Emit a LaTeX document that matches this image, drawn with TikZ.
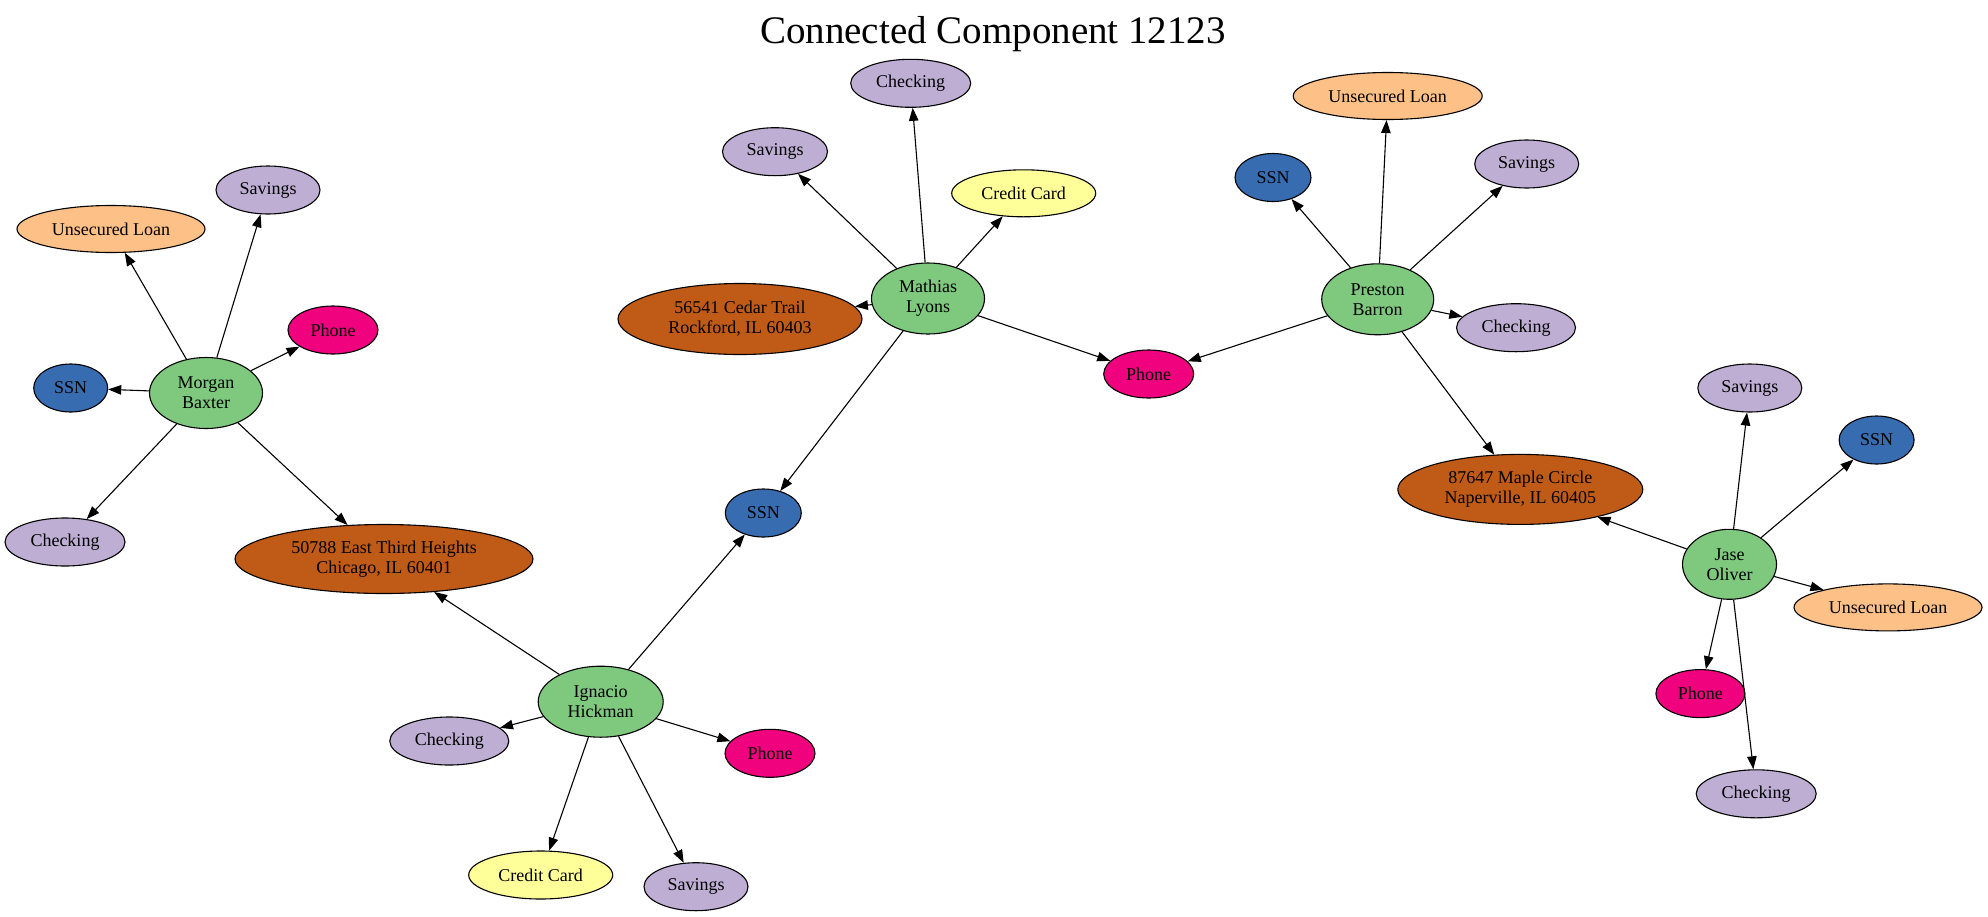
\documentclass[tikz,border=0pt]{standalone}
\usepackage{fontspec}
\setmainfont{Liberation Serif}
\usetikzlibrary{shapes.geometric,arrows.meta}
\definecolor{cperson}{HTML}{7FC97F}
\definecolor{cacct}{HTML}{BEAED4}
\definecolor{cloan}{HTML}{FDC086}
\definecolor{ccard}{HTML}{FFFF99}
\definecolor{cssn}{HTML}{386CB0}
\definecolor{cphone}{HTML}{F0027F}
\definecolor{caddr}{HTML}{BF5B17}
\tikzset{
  base/.style={ellipse, draw=black, line width=1.1pt, inner sep=0pt, align=center,
    font=\fontsize{18}{20}\selectfont},
  person/.style={base, fill=cperson, minimum width=113pt, minimum height=71pt},
  acct/.style={base, fill=cacct, minimum width=#1, minimum height=48pt},
  loan/.style={base, fill=cloan, minimum width=188pt, minimum height=47pt},
  card/.style={base, fill=ccard, minimum width=144pt, minimum height=47pt},
  ssnbox/.style={base, fill=cssn, minimum width=75pt, minimum height=48pt},
  phonebox/.style={base, fill=cphone, minimum width=90pt, minimum height=48pt},
  addr/.style={base, fill=caddr, minimum width=#1, minimum height=70pt},
  link/.style={line width=1.1pt, -{Triangle[length=13pt,width=9.5pt]}},
}
\begin{document}
\begin{tikzpicture}[x=1pt,y=-1pt]
\useasboundingbox (0,0) rectangle (1988,916);
\node[anchor=base, font=\fontsize{39}{44}\selectfont] (title) at (993,43) {Connected Component 12123};

% Morgan Baxter
\node[person] (m) at (206,393) {Morgan\\Baxter};
\node[ssnbox, minimum width=74pt] (mSSN) at (70.7,388) {SSN};
\node[phonebox] (mPhone) at (333,330) {Phone};
\node[acct=104pt] (mSav) at (268,190) {Savings};
\node[loan] (mLoan) at (111,229) {Unsecured Loan};
\node[acct=120pt] (mChk) at (65,542) {Checking};
\node[addr=298pt, minimum height=69pt] (a1) at (384,559) {50788 East Third Heights\\Chicago, IL 60401};

% Mathias Lyons
\node[person] (l) at (928,298.5) {Mathias\\Lyons};
\node[acct=120pt] (lChk) at (910.7,83.3) {Checking};
\node[acct=105pt] (lSav) at (775,151.7) {Savings};
\node[card] (lCC) at (1023.7,193.3) {Credit Card};
\node[addr=244pt, minimum height=71pt] (a2) at (740,319) {56541 Cedar Trail\\Rockford, IL 60403};
\node[phonebox] (phone) at (1148.7,374) {Phone};
\node[ssnbox, minimum width=76pt] (ssn) at (763.3,513) {SSN};

% Preston Barron
\node[person, minimum width=112pt] (p) at (1377.7,299.3) {Preston\\Barron};
\node[loan, minimum width=189pt] (pLoan) at (1387.7,96) {Unsecured Loan};
\node[acct=104pt] (pSav) at (1526.7,164) {Savings};
\node[acct=119pt] (pChk) at (1516,327.7) {Checking};
\node[ssnbox, minimum width=76pt] (pSSN) at (1273,177.5) {SSN};
\node[addr=245pt] (a3) at (1520.3,489.4) {87647 Maple Circle\\Naperville, IL 60405};

% Ignacio Hickman
\node[person, minimum width=125pt] (i) at (600.7,701.7) {Ignacio\\Hickman};
\node[acct=119pt] (iChk) at (449.3,741) {Checking};
\node[phonebox] (iPhone) at (770,753.3) {Phone};
\node[card, minimum height=48pt] (iCC) at (540.7,875) {Credit Card};
\node[acct=104pt] (iSav) at (696,886.7) {Savings};

% Jase Oliver
\node[person, minimum width=94pt, minimum height=70pt] (j) at (1729.5,564.3) {Jase\\Oliver};
\node[acct=104pt] (jSav) at (1749.8,388) {Savings};
\node[ssnbox] (jSSN) at (1876.6,440) {SSN};
\node[loan] (jLoan) at (1888,607.4) {Unsecured Loan};
\node[phonebox, minimum width=89pt] (jPhone) at (1700.4,693.6) {Phone};
\node[acct=120pt] (jChk) at (1756.2,793.8) {Checking};

% edges
\foreach \t in {mSSN,mPhone,mSav,mLoan,mChk,a1} \draw[link] (m) -- (\t);
\foreach \t in {lChk,lSav,lCC,a2,phone,ssn} \draw[link] (l) -- (\t);
\foreach \t in {pLoan,pSav,pChk,pSSN,a3,phone} \draw[link] (p) -- (\t);
\foreach \t in {a1,ssn,iChk,iPhone,iCC,iSav} \draw[link] (i) -- (\t);
\foreach \t in {a3,jSav,jSSN,jLoan,jPhone,jChk} \draw[link] (j) -- (\t);
\end{tikzpicture}
\end{document}
